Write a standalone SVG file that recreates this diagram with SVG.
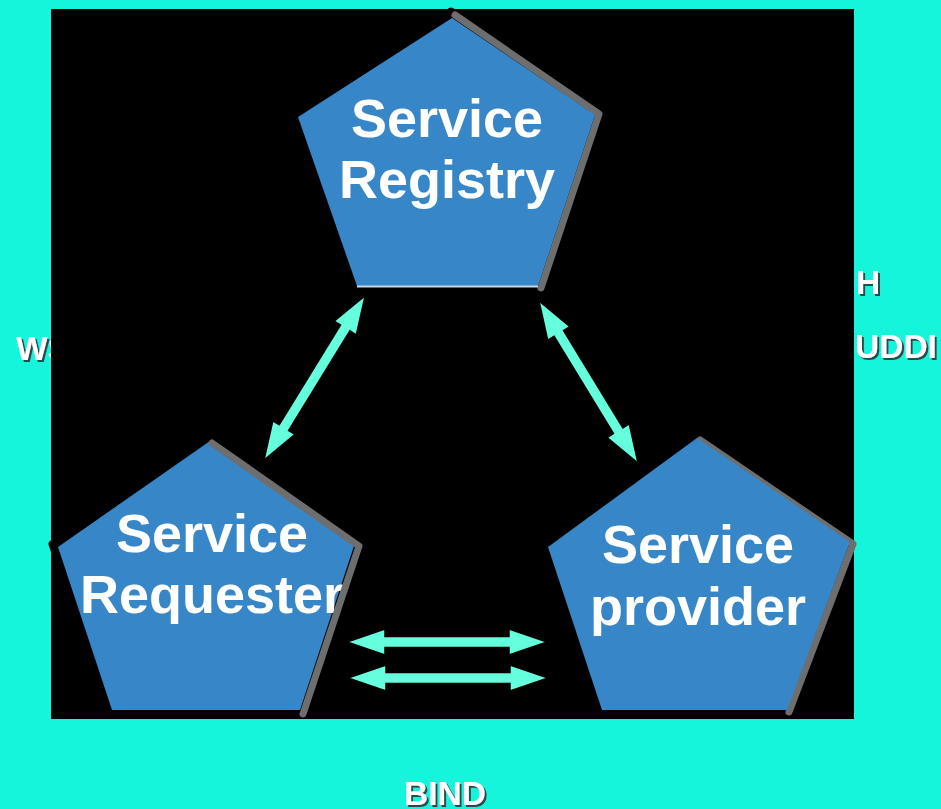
<svg xmlns="http://www.w3.org/2000/svg" width="941" height="809" viewBox="0 0 941 809">
<defs>
<filter id="tsh" x="-10%" y="-10%" width="130%" height="140%">
<feDropShadow dx="2" dy="2" stdDeviation="0.3" flood-color="#2a4a48" flood-opacity="1"/>
</filter>
<style>
.lbl{font-family:"Liberation Sans",Arial,sans-serif;font-weight:bold;font-size:33.5px;fill:#ffffff;filter:url(#tsh)}
.nt{font-family:"Liberation Sans",Arial,sans-serif;font-weight:bold;font-size:54px;fill:#ffffff;text-anchor:middle}
.pent{fill:#3786c7}
.outl{fill:none;stroke:#000;stroke-width:7;stroke-linejoin:round;stroke-linecap:round}
.shad{fill:none;stroke:#6e6e6e;stroke-width:7;stroke-linejoin:round;stroke-linecap:round}
.arr{fill:#66ffdd;stroke:#000;stroke-width:1.5;stroke-linejoin:miter}
</style>
</defs>
<rect x="0" y="0" width="941" height="809" fill="#14f5dc"/>
<g id="labels-back">
<text class="lbl" x="16" y="360">WS</text>
</g>
<rect x="51" y="9" width="803" height="710" fill="#000"/>
<g id="labels">
<text class="lbl" x="856" y="294">H</text>
<text class="lbl" x="855" y="358">UDDI</text>
<text class="lbl" x="404" y="805">BIND</text>
</g>
<g id="registry">
<polygon class="outl" points="452,13 298,114 357,283 538,283 595,112" transform="translate(-1,-2)"/>
<polyline class="shad" points="455,15 599,114 541,288"/>
<polygon class="pent" points="452,18 298,117 357,286 538,286 595,115"/>
<line x1="357" y1="286.5" x2="538" y2="286.5" stroke="#c9d6e2" stroke-width="2"/>
<text class="nt" x="447" y="137">Service</text>
<text class="nt" x="447" y="198">Registry</text>
</g>
<g id="requester">
<polygon class="outl" points="208,438 53,545 108,712 300,712 355,543" transform="translate(-1,-1)"/>
<polygon class="pent" points="210,441 58,547 112,710 300,710 355,543"/>
<text class="nt" x="212" y="552">Service</text>
<text class="nt" x="212" y="613">Requester</text>
<polyline class="shad" points="212,443 359,546 303,714"/>
</g>
<g id="provider">
<polygon class="outl" points="695,435 543,543 602,710 787,710 850,542" transform="translate(-1,-1)"/>
<polyline class="shad" points="700,440 853,544 789,712"/>
<polygon class="pent" points="697,438 548,547 602,710 787,710 850,542"/>
<text class="nt" x="698" y="563">Service</text>
<text class="nt" x="698" y="625">provider</text>
</g>
<g id="connectors">
<path class="arr" transform="translate(264,460) rotate(-58.4)" d="M0,0 L38,-13 L38,-5.5 L155,-5.5 L155,-13 L193,0 L155,13 L155,5.5 L38,5.5 L38,13 Z"/>
<path class="arr" transform="translate(539,301) rotate(58.6)" d="M0,0 L38,-13 L38,-5.5 L152,-5.5 L152,-13 L190,0 L152,13 L152,5.5 L38,5.5 L38,13 Z"/>
<path class="arr" transform="translate(347,642)" d="M0,0 L38,-13 L38,-5.5 L162,-5.5 L162,-13 L200,0 L162,13 L162,5.5 L38,5.5 L38,13 Z"/>
<path class="arr" transform="translate(348,678)" d="M0,0 L38,-13 L38,-5.5 L162,-5.5 L162,-13 L200,0 L162,13 L162,5.5 L38,5.5 L38,13 Z"/>
</g>
</svg>
